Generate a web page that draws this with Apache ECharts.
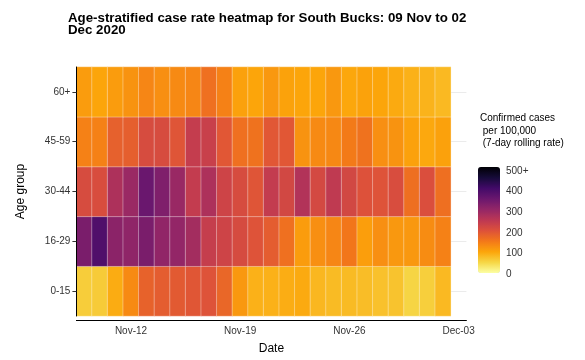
<!DOCTYPE html>
<html>
<head>
<meta charset="utf-8">
<script src="https://cdn.jsdelivr.net/npm/echarts@6/dist/echarts.min.js"></script>
<style>html,body{margin:0;padding:0;background:#fff}#c{width:585px;height:360px}</style>
</head>
<body>
<div id="c"></div>
<script>
// Dates (Nov-09 .. Dec-03; the last category has no data, it only carries the Dec-03 tick)
var dates = ['Nov-09','Nov-10','Nov-11','Nov-12','Nov-13','Nov-14','Nov-15','Nov-16','Nov-17','Nov-18','Nov-19','Nov-20',
             'Nov-21','Nov-22','Nov-23','Nov-24','Nov-25','Nov-26','Nov-27','Nov-28','Nov-29','Nov-30','Dec-01','Dec-02','Dec-03'];
var xTickLabels = ['Nov-12','Nov-19','Nov-26','Dec-03'];
var ageGroups = ['0-15','16-29','30-44','45-59','60+'];

// 7-day rolling case rate per 100,000, one array per age group (Nov-09 .. Dec-02)
var rate0to15  = [60,62,93,130,178,185,188,193,198,172,115,88, 88,92,95,82,78,78,76,72,70,52,58,80];
var rate16to29 = [330,382,310,305,330,302,300,280,236,225,212,198, 185,160,110,125,135,152,108,125,115,115,128,140];
var rate30to44 = [210,208,268,292,350,325,293,240,268,225,210,195, 240,218,262,215,245,218,200,198,208,162,205,162];
var rate45to59 = [140,140,180,182,210,210,195,238,232,192,160,158, 192,192,120,130,132,148,158,125,120,105,97,105];
var rate60plus = [110,100,110,120,135,125,130,135,160,140,105,100, 115,103,100,100,115,98,103,100,95,88,86,80];

var legendTicks = [0,100,200,300,400,500];

var rows = [rate0to15, rate16to29, rate30to44, rate45to59, rate60plus];
var data = [];
rows.forEach(function (arr, yi) {
  arr.forEach(function (v, xi) { data.push([xi, yi, v]); });
});

// inferno palette, low -> high
var inferno = ['#FCFFA4','#F6D746','#FCA50A','#F37819','#DD513A','#BC3754','#932667','#6A176E','#420A68','#160B39','#000004'];

var font = 'Liberation Sans, Arial, sans-serif';
var chart = echarts.init(document.getElementById('c'), null, {renderer: 'canvas'});
chart.setOption({
  backgroundColor: '#fff',
  animation: false,
  textStyle: {fontFamily: font},
  title: {
    text: 'Age-stratified case rate heatmap for South Bucks: 09 Nov to 02\nDec 2020',
    left: 63, top: 7,
    textStyle: {fontFamily: font, fontWeight: 'bold', fontSize: 13.3, lineHeight: 12, color: '#000'}
  },
  grid: [
    {left: 76.4, top: 67, width: 390, height: 251, containLabel: false},
    {left: 478, top: 171, width: 22, height: 103, containLabel: false}
  ],
  xAxis: [{
    type: 'category', data: dates, gridIndex: 0, offset: 4,
    axisLine: {show: true, lineStyle: {color: '#000', width: 1}},
    axisTick: {alignWithLabel: true, length: 4, lineStyle: {color: '#333'},
      interval: function (i, name) { return xTickLabels.indexOf(name) >= 0; }},
    axisLabel: {interval: function (i, name) { return xTickLabels.indexOf(name) >= 0; },
      color: '#333', fontSize: 10, margin: 6, fontFamily: font},
    splitLine: {show: false},
    name: 'Date', nameLocation: 'middle', nameGap: 23,
    nameTextStyle: {fontSize: 12, color: '#000', fontFamily: font}
  }, {
    type: 'value', gridIndex: 1, show: false, min: 0, max: 1
  }],
  yAxis: [{
    type: 'category', data: ageGroups, gridIndex: 0, z: 5, position: 'left',
    axisLine: {show: true, onZero: false, lineStyle: {color: '#000', width: 1}},
    axisTick: {show: true, alignWithLabel: true, length: 4, lineStyle: {color: '#333'}},
    axisLabel: {color: '#333', fontSize: 10, margin: 6, fontFamily: font},
    splitLine: {show: false},
    name: 'Age group', nameLocation: 'middle', nameGap: 50, nameRotate: 90,
    nameTextStyle: {fontSize: 12, color: '#000', fontFamily: font}
  }, {
    type: 'value', gridIndex: 1, min: 0, max: 500, interval: 100, position: 'right', z: 10,
    axisLine: {show: false},
    axisTick: {show: true, inside: true, length: 4, lineStyle: {color: 'rgba(255,255,255,0.6)'}},
    axisLabel: {color: '#333', fontSize: 10, margin: 6, fontFamily: font,
      formatter: function (v) { return v === legendTicks[legendTicks.length - 1] ? v + '+' : String(v); }},
    splitLine: {show: false}
  }, {
    type: 'category', data: ageGroups, gridIndex: 0, z: 0, position: 'left',
    axisLine: {show: false}, axisTick: {show: false}, axisLabel: {show: false},
    splitLine: {show: true, alignWithLabel: true, lineStyle: {color: '#EBEBEB', width: 1}}
  }],
  visualMap: {
    type: 'continuous', min: 0, max: 500, seriesIndex: 0, calculable: false,
    left: 463, top: 152, itemWidth: 22, itemHeight: 106, orient: 'vertical',
    text: null, showLabel: false,
    inRange: {color: inferno}
  },
  graphic: [{
    type: 'text', left: 480, top: 112,
    style: {text: 'Confirmed cases\n per 100,000\n (7-day rolling rate)', font: '10px ' + font, fill: '#000', lineHeight: 12.5}
  }],
  series: [{
    type: 'heatmap', xAxisIndex: 0, yAxisIndex: 0, data: data,
    itemStyle: {borderColor: 'rgba(255,255,255,0.35)', borderWidth: 1},
    emphasis: {disabled: true}
  }]
});
</script>
</body>
</html>
